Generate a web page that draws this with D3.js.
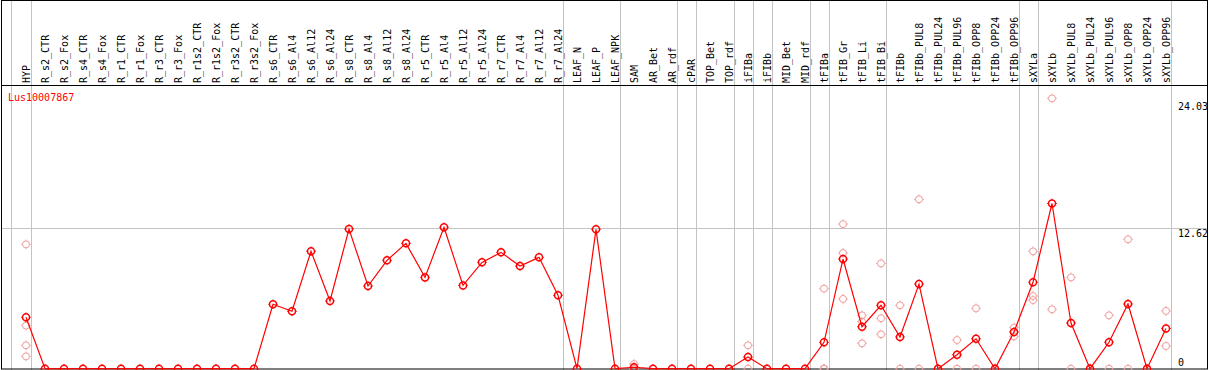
<!DOCTYPE html>
<html><head><meta charset="utf-8">
<script src="https://cdn.jsdelivr.net/npm/d3@7"></script>
<style>body{margin:0;background:#fff;} text{font-family:"DejaVu Sans Mono",monospace;font-size:10px;}</style>
</head><body><svg id="c" width="1209" height="370"></svg>
<script>
const title = "Lus10007867";
const categories = ["HYP","R_s2_CTR","R_s2_Fox","R_s4_CTR","R_s4_Fox","R_r1_CTR","R_r1_Fox","R_r3_CTR","R_r3_Fox","R_r1s2_CTR","R_r1s2_Fox","R_r3s2_CTR","R_r3s2_Fox","R_s6_CTR","R_s6_Al4","R_s6_Al12","R_s6_Al24","R_s8_CTR","R_s8_Al4","R_s8_Al12","R_s8_Al24","R_r5_CTR","R_r5_Al4","R_r5_Al12","R_r5_Al24","R_r7_CTR","R_r7_Al4","R_r7_Al12","R_r7_Al24","LEAF_N","LEAF_P","LEAF_NPK","SAM","AR_Bet","AR_rdf","cPAR","TOP_Bet","TOP_rdf","iFIBa","iFIBb","MID_Bet","MID_rdf","tFIBa","tFIB_Gr","tFIB_Li","tFIB_Bi","tFIBb","tFIBb_PUL8","tFIBb_PUL24","tFIBb_PUL96","tFIBb_OPP8","tFIBb_OPP24","tFIBb_OPP96","sXYLa","sXYLb","sXYLb_PUL8","sXYLb_PUL24","sXYLb_PUL96","sXYLb_OPP8","sXYLb_OPP24","sXYLb_OPP96"];
const groupSizes = [1,28,3,3,1,2,1,1,2,1,3,7,1,7];
const means = [4.62,0,0,0,0,0,0,0,0,0,0,0,0,5.79,5.16,10.56,6.09,12.56,7.43,9.74,11.27,8.21,12.71,7.49,9.56,10.46,9.23,10.01,6.60,0,12.53,0,0.13,0,0,0,0,0,1.05,0,0,0,2.37,9.86,3.77,5.70,2.85,7.61,0,1.25,2.69,0,3.30,7.77,14.85,4.10,0,2.38,5.82,0,3.62];
const replicates = [[11.18,3.87,2.10,1.11],[],[],[],[],[],[],[],[],[],[],[],[],[],[],[],[],[],[],[],[],[],[],[],[],[],[],[],[],[],[],[],[0.42,0,0],[],[],[],[],[],[2.10,0],[],[],[],[7.2,0,0],[13.0,10.4,6.27],[4.80,4.23,2.28],[9.47,4.53,3.09],[5.70,0],[15.23,0],[0,0],[2.58,0],[5.43,0],[0,0],[3.69,2.91],[10.55,6.53,6.17],[24.3,5.34],[8.21,0],[0,0],[4.80,0],[11.63,0],[0,0],[5.19,2.04]];
const yTicks = [0,12.62,24.03];

const svg = d3.select("#c");
const W = 1209, H = 370;
const x = d3.scalePoint().domain(categories).range([26,1166]);
const y = d3.scaleLinear().domain([0,24.03]).range([368.7,101.4]);
const grey = "#c3c3c3";

const sepX = [x(categories[0]) - 15.5];
let acc = 0;
groupSizes.forEach(s => { acc += s; sepX.push(x(categories[acc-1]) + 4.5); });
svg.selectAll("line.sep").data(sepX).enter().append("line")
  .attr("x1", d=>Math.round(d)+0.5).attr("x2", d=>Math.round(d)+0.5)
  .attr("y1", 0).attr("y2", H).attr("stroke", grey).attr("stroke-width",1);

svg.selectAll("line.grid").data(yTicks.filter(v=>v>0 && v<yTicks[yTicks.length-1])).enter().append("line")
  .attr("x1",1).attr("x2",1207).attr("y1",d=>Math.round(y(d))+0.5).attr("y2",d=>Math.round(y(d))+0.5)
  .attr("stroke",grey).attr("stroke-width",1);

svg.append("rect").attr("x",1.5).attr("y",0.5).attr("width",1206).attr("height",368.5)
  .attr("fill","none").attr("stroke","#000").attr("stroke-width",1);
svg.append("line").attr("x1",1).attr("x2",1208).attr("y1",85.5).attr("y2",85.5).attr("stroke","#000");

svg.selectAll("text.cat").data(categories).enter().append("text")
  .attr("transform", d=>`translate(${x(d)+3.5},83) rotate(-90)`)
  .attr("fill","#000").text(d=>d);

svg.selectAll("text.yt").data(yTicks).enter().append("text")
  .attr("x",1178).attr("y",d=>Math.min(y(d)+8.5,366)).attr("fill","#000").text(d=>d===0?"0":d.toFixed(2));

svg.append("text").attr("x",8).attr("y",101).attr("fill","#ff0000").text(title);

const plot = svg.append("g");
function marker(g, cx, cy, color, sw){
  g.append("circle").attr("cx",cx).attr("cy",cy).attr("r",3.5).attr("fill","none").attr("stroke",color).attr("stroke-width",sw);
  [[0,-1],[0,1],[-1,0],[1,0]].forEach(([dx,dy])=>{
    g.append("line").attr("x1",cx+dx*3.8).attr("y1",cy+dy*3.8).attr("x2",cx+dx*4.8).attr("y2",cy+dy*4.8)
      .attr("stroke",color).attr("stroke-width",1);
  });
}
categories.forEach((c,i)=>{
  replicates[i].forEach(v=>marker(plot, x(c), y(v), "#f09a9a", 1));
});
const line = d3.line().x((d,i)=>x(categories[i])).y(d=>y(d));
plot.append("path").datum(means).attr("d",line).attr("fill","none").attr("stroke","#ff0000").attr("stroke-width",1.2);
categories.forEach((c,i)=>marker(plot, x(c), y(means[i]), "#ff0000", 1.5));
</script></body></html>
